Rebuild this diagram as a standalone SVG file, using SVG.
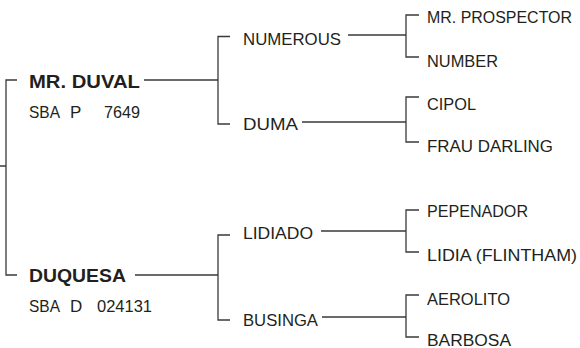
<svg xmlns="http://www.w3.org/2000/svg" width="580" height="348" viewBox="0 0 580 348">
<style>
text{font-family:"Liberation Sans",Arial,sans-serif;font-size:17px;fill:#231f20}
.b{font-weight:bold;font-size:18.5px}
.s{font-size:16px}
.c path{fill:none;stroke:#3a3a3a;stroke-width:1.3}
</style>
<rect width="580" height="348" fill="#fff"/>
<g class="c" id="connectors">
<path d="M0,166H6M17,80H6V275H17"/>
<path d="M144,80H218M230,36.5H218V124H230"/>
<path d="M135,275H218M230,235H218V320H230"/>
<path d="M348,35H406M419,15H406V57H419"/>
<path d="M302,122H406M419,97H406V142H419"/>
<path d="M321,231H406M419,210H406V252H419"/>
<path d="M322,317H406M419,295H406V337H419"/>
</g>
<g id="duval"><text class="b" x="29" y="88" textLength="111" lengthAdjust="spacingAndGlyphs">MR. DUVAL</text>
<text x="29" y="118" textLength="31" lengthAdjust="spacingAndGlyphs">SBA</text><text x="70" y="118">P</text><text x="104" y="118" textLength="36" lengthAdjust="spacingAndGlyphs">7649</text></g>
<g id="duquesa"><text class="b" x="29" y="282" textLength="97" lengthAdjust="spacingAndGlyphs">DUQUESA</text>
<text x="29" y="312" textLength="31" lengthAdjust="spacingAndGlyphs">SBA</text><text x="70" y="312">D</text><text x="97" y="312" textLength="55" lengthAdjust="spacingAndGlyphs">024131</text></g>
<g id="numerous"><text x="243" y="45" textLength="98" lengthAdjust="spacingAndGlyphs">NUMEROUS</text></g>
<g id="duma"><text x="243" y="130" textLength="55" lengthAdjust="spacingAndGlyphs">DUMA</text></g>
<g id="lidiado"><text x="243" y="239" textLength="70" lengthAdjust="spacingAndGlyphs">LIDIADO</text></g>
<g id="businga"><text x="243" y="325.5" textLength="75" lengthAdjust="spacingAndGlyphs">BUSINGA</text></g>
<g id="mrprospector"><text class="s" x="427" y="23.3" textLength="145" lengthAdjust="spacingAndGlyphs">MR. PROSPECTOR</text></g>
<g id="number"><text x="427" y="67" textLength="71" lengthAdjust="spacingAndGlyphs">NUMBER</text></g>
<g id="cipol"><text x="427" y="110" textLength="49" lengthAdjust="spacingAndGlyphs">CIPOL</text></g>
<g id="fraudarling"><text x="427" y="151.5" textLength="126" lengthAdjust="spacingAndGlyphs">FRAU DARLING</text></g>
<g id="pepenador"><text x="427" y="217" textLength="101" lengthAdjust="spacingAndGlyphs">PEPENADOR</text></g>
<g id="lidia"><text x="427" y="261" textLength="150" lengthAdjust="spacingAndGlyphs">LIDIA (FLINTHAM)</text></g>
<g id="aerolito"><text x="427" y="305" textLength="83" lengthAdjust="spacingAndGlyphs">AEROLITO</text></g>
<g id="barbosa"><text class="s" x="427" y="345.5" textLength="84" lengthAdjust="spacingAndGlyphs">BARBOSA</text></g>
</svg>
